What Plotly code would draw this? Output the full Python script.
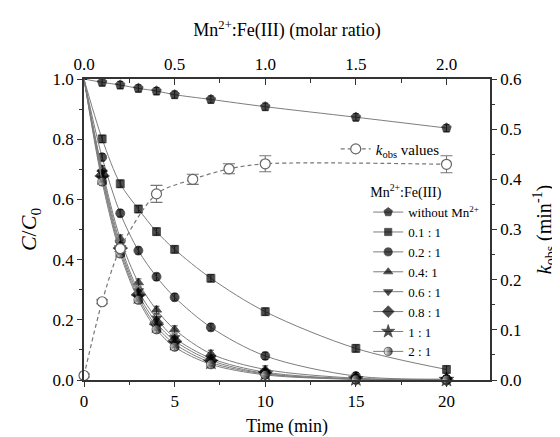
import plotly.graph_objects as go

# ---------------- data ----------------
time_min = [0, 1, 2, 3, 4, 5, 7, 10, 15, 20]
c_without = [1.0, 0.989, 0.980, 0.969, 0.960, 0.948, 0.932, 0.908, 0.873, 0.837]
c_r01 = [1.0, 0.801, 0.652, 0.568, 0.493, 0.434, 0.338, 0.227, 0.105, 0.035]
c_r02 = [1.0, 0.740, 0.554, 0.430, 0.343, 0.275, 0.175, 0.080, 0.013, 0.003]
c_r04 = [1.0, 0.700, 0.470, 0.324, 0.233, 0.168, 0.087, 0.035, 0.006, 0.001]
c_r06 = [1.0, 0.690, 0.452, 0.296, 0.205, 0.140, 0.072, 0.026, 0.004, 0.001]
c_r08 = [1.0, 0.680, 0.440, 0.285, 0.190, 0.130, 0.065, 0.022, 0.003, 0.001]
c_r1 = [1.0, 0.670, 0.430, 0.275, 0.178, 0.120, 0.058, 0.020, 0.003, 0.001]
c_r2 = [1.0, 0.659, 0.420, 0.266, 0.168, 0.110, 0.052, 0.017, 0.002, 0.001]
c_err = [0.0, 0.012, 0.012, 0.012, 0.012, 0.012, 0.012, 0.012, 0.012, 0.012]

ratio = [0.0, 0.1, 0.2, 0.4, 0.6, 0.8, 1.0, 2.0]
kobs = [0.009, 0.156, 0.262, 0.371, 0.400, 0.421, 0.431, 0.430]
kobs_err = [0.003, 0.004, 0.006, 0.017, 0.010, 0.010, 0.016, 0.017]

series_names = ["without Mn<sup>2+</sup>", "0.1 : 1", "0.2 : 1", "0.4: 1",
                "0.6 : 1", "0.8 : 1", "1 : 1", "2 : 1"]
series_values = [c_without, c_r01, c_r02, c_r04, c_r06, c_r08, c_r1, c_r2]

# ---------------- style ----------------
FONT = "Liberation Serif"
symbols = ["pentagon", "square", "circle", "triangle-up", "triangle-down",
           "diamond", "star", "circle"]
sizes = [10, 8, 9, 9, 9, 10, 11, 9]

fig = go.Figure()

for i, (name, vals) in enumerate(zip(series_names, series_values)):
    marker = dict(symbol=symbols[i],
                  size=[0 if t == 0 else sizes[i] for t in time_min],
                  color="black", line=dict(color="black", width=0.8))
    if i == len(series_names) - 1:
        marker["color"] = "white"
        marker["gradient"] = dict(type="horizontal", color="black")
    fig.add_trace(go.Scatter(
        x=time_min, y=vals, mode="lines+markers", name=name,
        line=dict(color="#7d7d7d", width=1, shape="spline", smoothing=0.9),
        marker=marker,
        error_y=dict(type="data", array=c_err, color="#222", thickness=0.8, width=3),
        cliponaxis=False, legend="legend2",
    ))

fig.add_trace(go.Scatter(
    x=ratio, y=kobs, xaxis="x2", yaxis="y2", mode="lines+markers",
    name="<i>k</i><sub>obs</sub> values",
    line=dict(color="#777777", width=1.2, dash="4px,3px", shape="spline", smoothing=0.8),
    marker=dict(symbol="circle", size=10, color="white", line=dict(color="#666666", width=1.2)),
    error_y=dict(type="data", array=kobs_err, color="#777777", thickness=1.1, width=6),
    cliponaxis=False, legend="legend",
))

axis_common = dict(showgrid=False, zeroline=False, showline=True, linecolor="#333333",
                   linewidth=1.5, tickcolor="#333333", tickwidth=1.2, automargin=False,
                   tickfont=dict(family=FONT, size=17, color="black"))

fig.update_layout(
    template="none",
    width=552, height=429,
    margin=dict(l=76, r=70, t=71, b=57, autoexpand=False),
    paper_bgcolor="white", plot_bgcolor="white",
    font=dict(family=FONT, color="black"),
    xaxis=dict(range=[0, 22.4], tick0=0, dtick=5, ticks="outside", ticklen=5,
               minor=dict(dtick=2.5, ticks="outside", ticklen=3, tickcolor="#333333"),
               title=dict(text="Time (min)", font=dict(family=FONT, size=18), standoff=10),
               **axis_common),
    xaxis2=dict(overlaying="x", side="top", anchor="y", range=[0, 2.24], tick0=0, dtick=0.5,
                tickformat=".1f", ticks="inside", ticklen=6,
                minor=dict(dtick=0.25, ticks="inside", ticklen=4, tickcolor="#333333"),
                title=dict(text="Mn<sup>2+</sup>:Fe(III) (molar ratio)",
                           font=dict(family=FONT, size=18), standoff=14),
                **axis_common),
    yaxis=dict(range=[0, 1], tick0=0, dtick=0.2, tickformat=".1f", ticks="outside", ticklen=5,
               minor=dict(dtick=0.1, ticks="outside", ticklen=3, tickcolor="#333333"),
               title=dict(text="<i>C</i>/<i>C</i><sub>0</sub>", font=dict(family=FONT, size=22),
                          standoff=10),
               **axis_common),
    yaxis2=dict(overlaying="y", side="right", anchor="x", range=[0, 0.6], tick0=0, dtick=0.1,
                tickformat=".1f", ticks="outside", ticklen=5,
                minor=dict(dtick=0.05, ticks="outside", ticklen=3, tickcolor="#333333"),
                title=dict(text="<i>k</i><sub>obs</sub> (min<sup>-1</sup>)",
                           font=dict(family=FONT, size=20), standoff=16),
                **axis_common),
    legend=dict(x=0.62, y=0.767, xanchor="left", yanchor="middle", bgcolor="rgba(0,0,0,0)",
                font=dict(family=FONT, size=15), itemwidth=30, tracegroupgap=0),
    legend2=dict(x=0.70, y=0.668, xanchor="left", yanchor="top", bgcolor="rgba(0,0,0,0)",
                 title=dict(text="Mn<sup>2+</sup>:Fe(III)", font=dict(family=FONT, size=14)),
                 font=dict(family=FONT, size=13), itemwidth=30, tracegroupgap=0),
    showlegend=True,
)

fig.write_html("out.html")
